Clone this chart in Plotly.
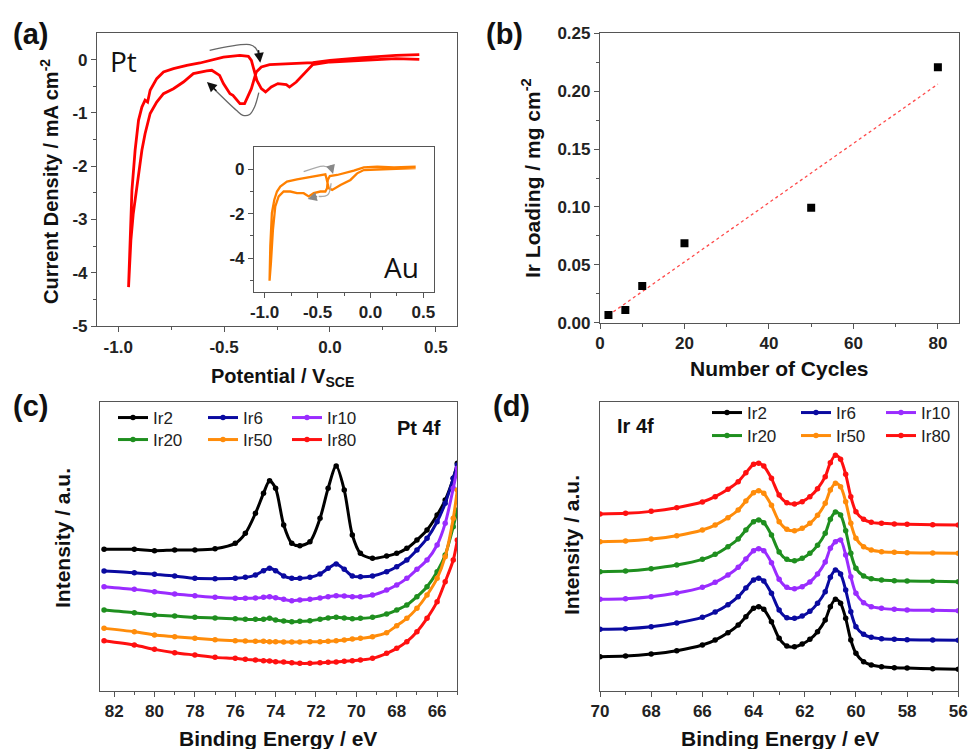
import numpy as np
import plotly.graph_objects as go

FONT = "Liberation Sans, Arial, sans-serif"

# ---------------- (a) Pt cyclic voltammogram ----------------
pt_cath_v = [0.422, 0.312, 0.155, 0.0, -0.081, -0.191, -0.285, -0.324, -0.348, -0.371, -0.403, -0.425,
             -0.458, -0.472, -0.503, -0.521, -0.535, -0.558, -0.582, -0.645, -0.692, -0.739, -0.786,
             -0.818, -0.849, -0.873, -0.888, -0.904, -0.920, -0.929, -0.940, -0.948]
pt_cath_j = [0.094, 0.080, 0.037, -0.013, -0.057, -0.075, -0.094, -0.138, -0.232, -0.545, -0.826, -0.826,
             -0.67, -0.64, -0.45, -0.295, -0.263, -0.20, -0.213, -0.263, -0.42, -0.545, -0.64,
             -0.795, -1.01, -1.39, -1.70, -2.14, -2.58, -2.90, -3.39, -4.27]
pt_an_v = [-0.951, -0.943, -0.935, -0.920, -0.904, -0.888, -0.873, -0.861, -0.849, -0.818, -0.786, -0.739,
           -0.676, -0.614, -0.566, -0.503, -0.425, -0.385, -0.371, -0.356, -0.345, -0.324, -0.304, -0.277,
           -0.246, -0.206, -0.191, -0.159, -0.120, -0.081, 0.0, 0.155, 0.312, 0.422]
pt_an_j = [-4.27, -3.39, -2.45, -1.70, -1.14, -0.89, -0.76, -0.795, -0.576, -0.357, -0.232, -0.169,
           -0.107, -0.063, -0.013, 0.049, 0.080, 0.062, -0.013, -0.232, -0.39, -0.545, -0.607, -0.514,
           -0.45, -0.47, -0.514, -0.42, -0.263, -0.094, -0.044, -0.013, 0.019, 0.006]

# inset: Au cyclic voltammogram
au_v = [0.427, 0.222, 0.064, -0.063, -0.157, -0.315, -0.384, -0.403, -0.410, -0.426, -0.473, -0.536, -0.583,
        -0.631, -0.694, -0.757, -0.820, -0.867, -0.899, -0.921, -0.940, -0.953,
        -0.946, -0.931, -0.908, -0.883, -0.852, -0.789, -0.694, -0.599, -0.504, -0.426, -0.416, -0.394,
        -0.362, -0.283, -0.189, -0.126, -0.063, 0.064, 0.222, 0.427]
au_j = [0.102, 0.073, 0.102, 0.073, -0.076, -0.268, -0.313, -0.49, -0.861, -1.009, -1.009, -1.083, -1.231,
        -1.083, -1.083, -1.009, -1.009, -1.231, -1.676, -2.712, -4.194, -5.009,
        -3.453, -1.972, -1.379, -1.009, -0.787, -0.564, -0.461, -0.387, -0.313, -0.239, -0.416, -0.861,
        -0.935, -0.712, -0.49, -0.194, -0.046, -0.016, 0.013, 0.043]

# scan-direction arrows (guide curves)
pt_arrow_top_v = [-0.568, -0.379, -0.351, -0.338]
pt_arrow_top_j = [0.175, 0.281, 0.218, 0.113]
pt_arrow_bot_v = [-0.336, -0.356, -0.379, -0.411, -0.442, -0.552]
pt_arrow_bot_j = [-0.62, -0.889, -1.03, -1.045, -0.951, -0.533]
au_arrow_top_v = [-0.631, -0.442, -0.384]
au_arrow_top_j = [-0.12, 0.132, 0.03]
au_arrow_bot_v = [-0.372, -0.403, -0.489]
au_arrow_bot_j = [-0.64, -1.157, -1.231]

# ---------------- (b) Ir loading ----------------
cycles = [2, 6, 10, 20, 50, 80]
ir_loading = [0.0066, 0.011, 0.0317, 0.0686, 0.0993, 0.2206]

# ---------------- (c) Pt 4f XPS ----------------
pt_be = [82.5, 81, 80, 79, 78, 77, 76, 75.5, 75, 74.6, 74.3, 74, 73.6, 73.2, 72.8, 72.3, 71.8, 71.4,
         71.0, 70.6, 70.2, 69.8, 69.2, 68.5, 68, 67.5, 67, 66.5, 66, 65.6, 65.2, 65.0]
pt_ir2 = [424, 424, 420, 422, 422, 426, 442, 472, 532, 592, 630, 607, 497, 442, 435, 447, 517, 607,
          674, 602, 467, 412, 397, 404, 412, 427, 452, 482, 527, 572, 637, 682]
pt_ir6 = [359, 354, 349, 344, 337, 336, 337, 340, 347, 360, 367, 360, 344, 337, 337, 340, 350, 367,
          380, 364, 344, 342, 344, 357, 372, 392, 422, 457, 507, 562, 637, 677]
pt_ir10 = [312, 304, 297, 290, 285, 280, 277, 277, 278, 280, 282, 279, 274, 270, 272, 274, 278, 282,
           285, 284, 282, 282, 287, 302, 317, 337, 364, 392, 437, 502, 607, 667]
pt_ir20 = [242, 234, 227, 224, 220, 218, 216, 214, 214, 214, 217, 212, 209, 207, 208, 210, 214, 218,
           220, 218, 216, 217, 220, 230, 242, 257, 282, 312, 357, 407, 492, 542]
pt_ir50 = [187, 177, 167, 162, 157, 153, 150, 149, 148, 148, 147, 147, 146, 146, 146, 147, 147, 148,
           150, 152, 155, 157, 162, 174, 195, 217, 247, 287, 337, 402, 517, 602]
pt_ir80 = [150, 137, 124, 114, 107, 100, 97, 94, 92, 90, 89, 87, 86, 84, 82, 82, 84, 85,
           86, 88, 90, 92, 97, 112, 127, 147, 177, 217, 267, 327, 392, 452]

# ---------------- (d) Ir 4f XPS ----------------
ir_be = [70, 69, 68, 67, 66, 65.5, 65, 64.6, 64.3, 64.0, 63.8, 63.6, 63.3, 63.0, 62.7, 62.4, 62.1,
         61.8, 61.5, 61.2, 61.0, 60.8, 60.6, 60.4, 60.2, 60.0, 59.7, 59.4, 59, 58.5, 58, 57, 56]
ir_ir2 = [102, 104, 110, 120, 137, 152, 174, 197, 222, 247, 252, 244, 207, 157, 134, 132, 140,
          154, 177, 212, 252, 274, 262, 217, 152, 112, 87, 77, 72, 69, 68, 66, 64]
ir_ir6 = [184, 186, 192, 203, 220, 236, 258, 282, 308, 332, 337, 329, 292, 242, 219, 217, 224,
          238, 262, 297, 340, 362, 350, 302, 237, 192, 169, 160, 156, 154, 153, 152, 151]
ir_ir10 = [274, 276, 282, 293, 310, 325, 347, 370, 395, 420, 426, 420, 384, 334, 310, 306, 312,
           326, 350, 386, 427, 447, 452, 407, 342, 292, 264, 252, 247, 244, 242, 241, 240]
ir_ir20 = [357, 359, 366, 377, 394, 409, 432, 455, 482, 507, 512, 504, 467, 416, 394, 390, 397,
           412, 436, 472, 514, 536, 527, 480, 412, 367, 344, 336, 332, 330, 329, 328, 327]
ir_ir50 = [447, 449, 455, 465, 482, 497, 519, 542, 569, 594, 600, 592, 556, 507, 484, 480, 487,
           502, 526, 562, 602, 622, 612, 567, 502, 457, 432, 422, 417, 415, 414, 413, 412]
ir_ir80 = [530, 532, 538, 549, 566, 582, 604, 627, 654, 679, 682, 674, 637, 587, 564, 560, 567,
           582, 606, 642, 684, 706, 694, 649, 582, 537, 514, 505, 502, 500, 499, 498, 497]

series_names = ["Ir2", "Ir6", "Ir10", "Ir20", "Ir50", "Ir80"]
series_colors = ["#000000", "#0a0aa0", "#9a2cff", "#1f8f1f", "#ff8c0a", "#ff1010"]

# tick definitions
a_xticks = [-1.0, -0.5, 0.0, 0.5]
a_xticktext = ["-1.0", "-0.5", "0.0", "0.5"]
a_yticks = [0, -1, -2, -3, -4, -5]
a_yticktext = ["0", "-1", "-2", "-3", "-4", "-5"]
in_yticks = [0, -2, -4]
in_yticktext = ["0", "-2", "-4"]
b_xticks = [0, 20, 40, 60, 80]
b_yticks = [0.0, 0.05, 0.10, 0.15, 0.20, 0.25]
c_xticks = [82, 80, 78, 76, 74, 72, 70, 68, 66]
d_xticks = [70, 68, 66, 64, 62, 60, 58, 56]

W, H = 969, 749

def px(xp):
    return xp / W

def py(yp):
    return 1 - yp / H

fig = go.Figure()

# (a)
fig.add_trace(go.Scatter(x=pt_cath_v + pt_an_v, y=pt_cath_j + pt_an_j, mode="lines",
                         line=dict(color="#ff0000", width=2.8), xaxis="x", yaxis="y", showlegend=False))
for xs, ys in [(pt_arrow_top_v, pt_arrow_top_j), (pt_arrow_bot_v, pt_arrow_bot_j)]:
    fig.add_trace(go.Scatter(x=xs, y=ys, mode="lines", line=dict(color="#666666", width=1.3, shape="spline"),
                             xaxis="x", yaxis="y", showlegend=False))
# inset
fig.add_trace(go.Scatter(x=au_v, y=au_j, mode="lines", line=dict(color="#ff8000", width=2.3),
                         xaxis="x5", yaxis="y5", showlegend=False))
for xs, ys in [(au_arrow_top_v, au_arrow_top_j), (au_arrow_bot_v, au_arrow_bot_j)]:
    fig.add_trace(go.Scatter(x=xs, y=ys, mode="lines", line=dict(color="#aaaaaa", width=1.3, shape="spline"),
                             xaxis="x5", yaxis="y5", showlegend=False))

# (b)
slope, intercept = np.polyfit(cycles, ir_loading, 1)
fit_x = [min(cycles), max(cycles)]
fit_y = [slope * v + intercept for v in fit_x]
fig.add_trace(go.Scatter(x=fit_x, y=fit_y, mode="lines", line=dict(color="#ff4a4a", width=1.3, dash="dot"),
                         xaxis="x2", yaxis="y2", showlegend=False))
fig.add_trace(go.Scatter(x=cycles, y=ir_loading, mode="markers",
                         marker=dict(symbol="square", size=8, color="black"),
                         xaxis="x2", yaxis="y2", showlegend=False))

# (c)
pt_series = [pt_ir2, pt_ir6, pt_ir10, pt_ir20, pt_ir50, pt_ir80]
c_widths = [45, 39, 40, 45, 39, 40]
for i, (name, col, ys) in enumerate(zip(series_names, series_colors, pt_series)):
    fig.add_trace(go.Scatter(x=pt_be, y=ys, name=name, mode="lines+markers",
                             line=dict(color=col, width=3, shape="spline", smoothing=0.8),
                             marker=dict(color=col, size=5.5),
                             xaxis="x3", yaxis="y3",
                             legend="legend" if i < 3 else "legend2",
                             legendwidth=c_widths[i]))
# (d)
ir_series = [ir_ir2, ir_ir6, ir_ir10, ir_ir20, ir_ir50, ir_ir80]
d_widths = [44, 40, 40, 44, 40, 40]
for i, (name, col, ys) in enumerate(zip(series_names, series_colors, ir_series)):
    fig.add_trace(go.Scatter(x=ir_be, y=ys, name=name, mode="lines+markers",
                             line=dict(color=col, width=3, shape="spline", smoothing=0.8),
                             marker=dict(color=col, size=5.5),
                             xaxis="x4", yaxis="y4",
                             legend="legend3" if i < 3 else "legend4",
                             legendwidth=d_widths[i]))

AXC = "#555555"
tickfont = dict(size=17, family=FONT, color="#222222", weight="bold")

def axis(**kw):
    d = dict(showline=True, linecolor=AXC, linewidth=1.2, mirror=True, ticks="outside", ticklen=5,
             tickwidth=1.2, tickcolor=AXC, tickfont=tickfont, showgrid=False, zeroline=False,
             automargin=False)
    d.update(kw)
    return d

def minor(vals):
    return dict(ticks="outside", ticklen=3, tickwidth=1, tickcolor=AXC, tickmode="array", tickvals=vals, showgrid=False)

layout = dict(
    width=W, height=H, autosize=False,
    margin=dict(l=0, r=0, t=0, b=0, pad=0),
    paper_bgcolor="white", plot_bgcolor="white",
    font=dict(family=FONT, color="#222222"),
    # (a)
    xaxis=axis(domain=[px(97), px(457)], anchor="y", range=[-1.1, 0.6], tickmode="array",
               tickvals=a_xticks, ticktext=a_xticktext, minor=minor([-0.75, -0.25, 0.25])),
    yaxis=axis(domain=[py(326), py(33)], anchor="x", range=[-5, 0.5], tickmode="array",
               tickvals=a_yticks, ticktext=a_yticktext, minor=minor([-4.5, -3.5, -2.5, -1.5, -0.5])),
    # inset
    xaxis5=axis(domain=[px(254), px(434)], anchor="y5", range=[-1.1, 0.6], tickmode="array",
                tickvals=a_xticks, ticktext=a_xticktext, minor=minor([-0.75, -0.25, 0.25])),
    yaxis5=axis(domain=[py(291.7), py(146.7)], anchor="x5", range=[-5.5, 1.0], tickmode="array",
                tickvals=in_yticks, ticktext=in_yticktext, minor=minor([-5, -3, -1])),
    # (b)
    xaxis2=axis(domain=[px(600), px(959)], anchor="y2", range=[0, 85], tickmode="array",
                tickvals=b_xticks, ticktext=[str(v) for v in b_xticks], minor=minor([10, 30, 50, 70])),
    yaxis2=axis(domain=[py(322.7), py(33.3)], anchor="x2", range=[0, 0.25], tickmode="array",
                tickvals=b_yticks, ticktext=["%.2f" % v for v in b_yticks],
                minor=minor([0.025, 0.075, 0.125, 0.175, 0.225])),
    # (c)
    xaxis3=axis(domain=[px(100), px(457.3)], anchor="y3", range=[82.7, 65.0], tickmode="array",
                tickvals=c_xticks, ticktext=[str(v) for v in c_xticks],
                minor=minor([81, 79, 77, 75, 73, 71, 69, 67, 65])),
    yaxis3=axis(domain=[py(690.7), py(401.7)], anchor="x3", range=[0, 867], ticks="", showticklabels=False),
    # (d)
    xaxis4=axis(domain=[px(600), px(958.3)], anchor="y4", range=[70, 56], tickmode="array",
                tickvals=d_xticks, ticktext=[str(v) for v in d_xticks],
                minor=minor([69, 67, 65, 63, 61, 59, 57])),
    yaxis4=axis(domain=[py(690.7), py(401.7)], anchor="x4", range=[0, 867], ticks="", showticklabels=False),
)

legfont = dict(size=17, family=FONT, color="#222222")
def leg(xp, yp):
    return dict(orientation="h", x=px(xp), y=py(yp), xanchor="left", yanchor="middle",
                font=legfont, bgcolor="rgba(0,0,0,0)", itemwidth=30, tracegroupgap=0)

layout["legend"] = leg(113, 418)
layout["legend2"] = leg(113, 440)
layout["legend3"] = leg(707, 413)
layout["legend4"] = leg(707, 436)
fig.update_layout(**layout)

ann = []
def txt(text, xp, yp, size, bold=True, angle=0, family=FONT, xanchor="center"):
    ann.append(dict(text=text, x=px(xp), y=py(yp), xref="paper", yref="paper", showarrow=False,
                    xanchor=xanchor, yanchor="middle", textangle=angle,
                    font=dict(size=size, family=family, color="#111111", weight="bold" if bold else "normal")))

# panel labels
txt("(a)", 31, 34, 29)
txt("(b)", 505, 34, 29)
txt("(c)", 31, 406, 29)
txt("(d)", 512, 406, 29)
# axis titles
txt("Potential / V<sub>SCE</sub>", 282, 377, 20)
txt("Current Density / mA cm<sup>-2</sup>", 49, 182, 20, angle=-90)
txt("Number of Cycles", 779, 368, 21)
txt("Ir Loading / mg cm<sup>-2</sup>", 531, 178, 21, angle=-90)
txt("Binding Energy / eV", 278, 738, 21)
txt("Intensity / a.u.", 62, 538, 21, angle=-90)
txt("Binding Energy / eV", 780, 738, 21)
txt("Intensity / a.u.", 571, 545, 21, angle=-90)
# in-plot labels
txt("Pt", 124, 61, 28, bold=False, family="Open Sans, sans-serif")
txt("Au", 401, 267, 28, bold=False, family="Open Sans, sans-serif")
txt("Pt 4f", 419, 428, 20)
txt("Ir 4f", 635, 426, 20)

# arrow heads
ann.append(dict(x=-0.329, y=-0.057, xref="x", yref="y", ax=-2, ay=-14, text="", showarrow=True,
                arrowhead=2, arrowsize=1.4, arrowwidth=1.4, arrowcolor="#111111"))
ann.append(dict(x=-0.581, y=-0.42, xref="x", yref="y", ax=11, ay=10, text="", showarrow=True,
                arrowhead=2, arrowsize=1.4, arrowwidth=1.4, arrowcolor="#111111"))
ann.append(dict(x=-0.353, y=-0.224, xref="x5", yref="y5", ax=-3, ay=-10, text="", showarrow=True,
                arrowhead=2, arrowsize=1.3, arrowwidth=1.4, arrowcolor="#888888"))
ann.append(dict(x=-0.593, y=-1.35, xref="x5", yref="y5", ax=11, ay=-3, text="", showarrow=True,
                arrowhead=2, arrowsize=1.3, arrowwidth=1.4, arrowcolor="#888888"))
fig.update_layout(annotations=ann)

fig.write_html("out.html", config={"displayModeBar": False},
               post_script="document.body.style.margin='0';document.body.style.overflow='hidden';")
